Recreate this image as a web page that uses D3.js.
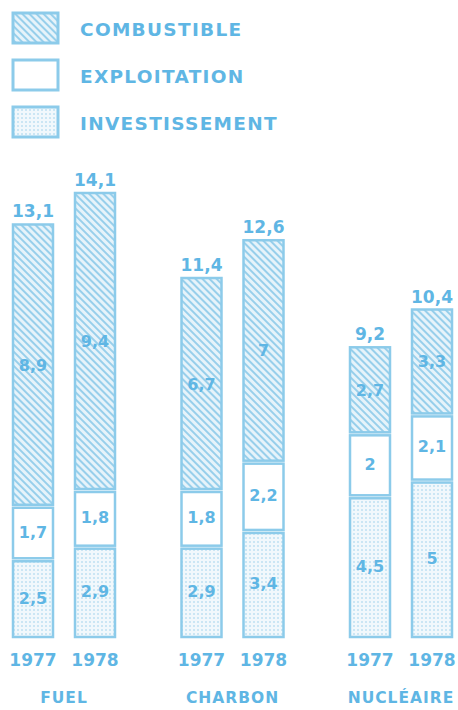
<!DOCTYPE html>
<html>
<head>
<meta charset="utf-8">
<script src="https://cdn.jsdelivr.net/npm/d3@7"></script>
<style>
  body { margin: 0; background: #fff; }
  svg { display: block; }
  text { font-family: "DejaVu Sans", "Liberation Sans", sans-serif; font-weight: bold; fill: #5fb6e4; }
</style>
</head>
<body>
<div id="chart"></div>
<script>
// data (costs, centimes/kWh)
const groups = ["FUEL", "CHARBON", "NUCLÉAIRE"];
const years = ["1977", "1978"];
const investissement = [[2.5, 2.9], [2.9, 3.4], [4.5, 5]];
const exploitation = [[1.7, 1.8], [1.8, 2.2], [2, 2.1]];
const combustible = [[8.9, 9.4], [6.7, 7], [2.7, 3.3]];
const totals = [[13.1, 14.1], [11.4, 12.6], [9.2, 10.4]];

const W = 458, H = 710;
const edge = "#8ccbea";
const fmt = v => String(v).replace(".", ",");

const svg = d3.select("#chart").append("svg")
  .attr("width", W).attr("height", H);

// fill patterns
const defs = svg.append("defs");
const hatch = defs.append("pattern")
  .attr("id", "hatch").attr("patternUnits", "userSpaceOnUse")
  .attr("width", 5).attr("height", 5)
  .attr("patternTransform", "rotate(-45)");
hatch.append("rect").attr("width", 5).attr("height", 5).attr("fill", "#e6f3fa");
hatch.append("line").attr("x1", 1).attr("y1", 0).attr("x2", 1).attr("y2", 5)
  .attr("stroke", "#8fcbea").attr("stroke-width", 1.8);

const dots = defs.append("pattern")
  .attr("id", "dots").attr("patternUnits", "userSpaceOnUse")
  .attr("width", 4).attr("height", 4);
dots.append("rect").attr("width", 4).attr("height", 4).attr("fill", "#f1f8fc");
dots.append("circle").attr("cx", 2).attr("cy", 2).attr("r", 0.8).attr("fill", "#9ccfea");

const fills = ["url(#dots)", "#fff", "url(#hatch)"];

// legend
const legendItems = [
  {name: "COMBUSTIBLE", fill: fills[2]},
  {name: "EXPLOITATION", fill: fills[1]},
  {name: "INVESTISSEMENT", fill: fills[0]}
];
const legend = svg.append("g");
legendItems.forEach((d, i) => {
  const y = 13 + i * 47;
  legend.append("rect")
    .attr("x", 13).attr("y", y).attr("width", 45).attr("height", 30)
    .attr("fill", d.fill).attr("stroke", edge).attr("stroke-width", 3);
  legend.append("text")
    .attr("x", 80).attr("y", y + 23)
    .attr("font-size", 18.5).attr("letter-spacing", 1.3)
    .text(d.name);
});

// scales
const x0 = d3.scalePoint().domain(groups).range([64, 401]);
const x1 = d3.scaleBand().domain(years).range([-51, 51]).paddingInner(0.355);
const y = d3.scaleLinear().domain([0, 14.1]).range([637, 193]);

// build stacked rows
const rows = [];
groups.forEach((g, gi) => {
  years.forEach((yr, yi) => {
    rows.push({
      group: g, year: yr, total: totals[gi][yi],
      vals: [investissement[gi][yi], exploitation[gi][yi], combustible[gi][yi]]
    });
  });
});

const stack = d3.stack().keys([0, 1, 2]).value((d, k) => d.vals[k]);
const layers = stack(rows);

const bars = svg.append("g");
layers.forEach((layer, k) => {
  bars.selectAll(null)
    .data(layer)
    .enter().append("rect")
    .attr("x", d => x0(d.data.group) + x1(d.data.year))
    .attr("y", d => y(d[1]) + (k === 2 ? 0 : 3))
    .attr("width", x1.bandwidth())
    .attr("height", d => y(d[0]) - y(d[1]) - (k === 2 ? 0 : 3))
    .attr("fill", fills[k])
    .attr("stroke", edge).attr("stroke-width", 2.5);

  bars.selectAll(null)
    .data(layer)
    .enter().append("text")
    .attr("x", d => x0(d.data.group) + x1(d.data.year) + x1.bandwidth() / 2)
    .attr("y", d => y((d[0] + d[1]) / 2) + 6)
    .attr("text-anchor", "middle")
    .attr("font-size", 16)
    .text(d => fmt(d.data.vals[k]));
});

// totals above bars
svg.append("g").selectAll("text")
  .data(rows)
  .enter().append("text")
  .attr("x", d => x0(d.group) + x1(d.year) + x1.bandwidth() / 2)
  .attr("y", d => y(d.total) - 7)
  .attr("text-anchor", "middle")
  .attr("font-size", 17)
  .text(d => fmt(d.total));

// year labels
svg.append("g").selectAll("text")
  .data(rows)
  .enter().append("text")
  .attr("x", d => x0(d.group) + x1(d.year) + x1.bandwidth() / 2)
  .attr("y", 666)
  .attr("text-anchor", "middle")
  .attr("font-size", 17)
  .text(d => d.year);

// group labels
svg.append("g").selectAll("text")
  .data(groups)
  .enter().append("text")
  .attr("x", d => x0(d))
  .attr("y", 703)
  .attr("text-anchor", "middle")
  .attr("font-size", 15.5)
  .attr("letter-spacing", 1)
  .text(d => d);
</script>
</body>
</html>
